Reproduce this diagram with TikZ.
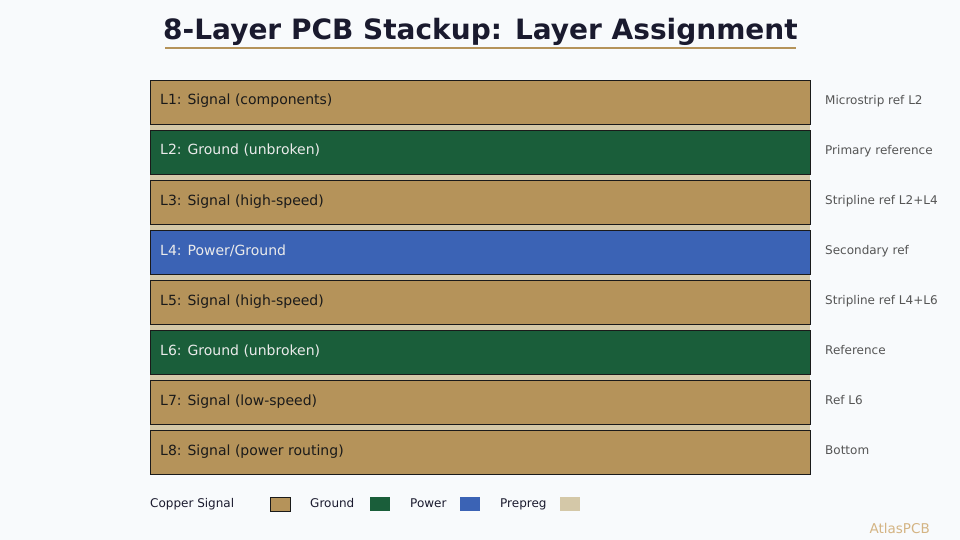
\documentclass[tikz,border=0pt]{standalone}
\usepackage{fontspec}
\setmainfont{DejaVu Sans}
\definecolor{bg}{HTML}{F8FAFC}
\definecolor{copper}{HTML}{B5935A}
\definecolor{gnd}{HTML}{1A5E3A}
\definecolor{pwr}{HTML}{3B63B5}
\definecolor{prepreg}{HTML}{D4C8A8}
\definecolor{titlec}{HTML}{1A1A2E}
\definecolor{edge}{HTML}{1A1A1A}
\definecolor{notec}{HTML}{555555}
\definecolor{brand}{HTML}{D4B483}
\tikzset{
  layer/.style={draw=edge, line width=0.8pt, minimum width=660pt, minimum height=44pt, inner sep=0pt, anchor=north west},
  lbl/.style={anchor=base west, font=\fontsize{14}{16}\selectfont, inner sep=0pt},
  note/.style={anchor=base west, font=\fontsize{12}{14}\selectfont, text=notec, inner sep=0pt},
  leg/.style={anchor=base west, font=\fontsize{12}{14}\selectfont, text=titlec, inner sep=0pt},
  swatch/.style={minimum width=20pt, minimum height=14pt, inner sep=0pt, anchor=north west},
}
\begin{document}
\begin{tikzpicture}[x=1pt,y=-1pt]
\fill[bg] (0,0) rectangle (960,540);
\useasboundingbox (0,0) rectangle (960,540);
\node[font=\fontsize{28}{32}\selectfont\bfseries, text=titlec, inner sep=0pt, anchor=base] (title) at (480.5,40) {8-Layer PCB Stackup: Layer Assignment};
\draw[copper, line width=2pt] (165,48) -- (796,48);
% prepreg strips
\foreach \i in {0,...,6} {
  \fill[prepreg] (150,{124+50*\i}) rectangle (810,{130+50*\i});
}
% layers
\node[layer, fill=copper] (l1) at (150,80) {};
\node[layer, fill=gnd] (l2) at (150,130) {};
\node[layer, fill=copper] (l3) at (150,180) {};
\node[layer, fill=pwr] (l4) at (150,230) {};
\node[layer, fill=copper] (l5) at (150,280) {};
\node[layer, fill=gnd] (l6) at (150,330) {};
\node[layer, fill=copper] (l7) at (150,380) {};
\node[layer, fill=copper] (l8) at (150,430) {};
\node[lbl, text=edge] (t1) at (160,105) {L1: Signal (components)};
\node[lbl, text=white!92!black] (t2) at (160,155) {L2: Ground (unbroken)};
\node[lbl, text=edge] (t3) at (160,205) {L3: Signal (high-speed)};
\node[lbl, text=white!92!black] (t4) at (160,255) {L4: Power/Ground};
\node[lbl, text=edge] (t5) at (160,305) {L5: Signal (high-speed)};
\node[lbl, text=white!92!black] (t6) at (160,355) {L6: Ground (unbroken)};
\node[lbl, text=edge] (t7) at (160,405) {L7: Signal (low-speed)};
\node[lbl, text=edge] (t8) at (160,455) {L8: Signal (power routing)};
\node[note] (n1) at (825,104.3) {Microstrip ref L2};
\node[note] (n2) at (825,154.3) {Primary reference};
\node[note] (n3) at (825,204.3) {Stripline ref L2+L4};
\node[note] (n4) at (825,254.3) {Secondary ref};
\node[note] (n5) at (825,304.3) {Stripline ref L4+L6};
\node[note] (n6) at (825,354.3) {Reference};
\node[note] (n7) at (825,404.3) {Ref L6};
\node[note] (n8) at (825,454.3) {Bottom};
% legend
\node[leg] (g1) at (150,507.5) {Copper Signal};
\node[swatch, fill=copper, draw=edge, line width=0.8pt] (s1) at (270,497) {};
\node[leg] (g2) at (310,507.5) {Ground};
\node[swatch, fill=gnd] (s2) at (370,497) {};
\node[leg] (g3) at (410,507.5) {Power};
\node[swatch, fill=pwr] (s3) at (460,497) {};
\node[leg] (g4) at (500,507.5) {Prepreg};
\node[swatch, fill=prepreg] (s4) at (560,497) {};
\node[font=\fontsize{13.5}{15}\selectfont, text=brand, anchor=base east, inner sep=0pt] (brand) at (930,533) {AtlasPCB};
\end{tikzpicture}
\end{document}
